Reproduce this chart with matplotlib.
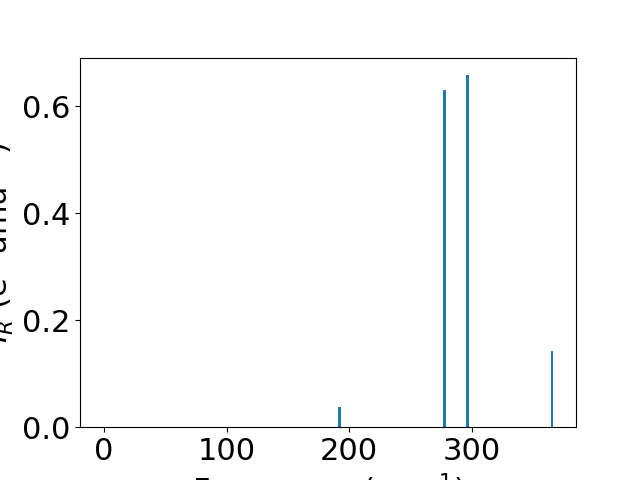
import matplotlib
matplotlib.use('Agg')
import matplotlib.pyplot as plt

# IR spectrum: mode frequencies (cm^-1) and intensities
frequencies = [0.0, 192.0, 277.8, 296.6, 365.7]
intensities = [0.0, 0.037, 0.630, 0.658, 0.142]

plt.rcParams['font.size'] = 22

fig, ax = plt.subplots(figsize=(6.4, 4.8), dpi=100)
ax.bar(frequencies, intensities, width=2.4)
ax.set_xlabel('Frequency (cm$^{-1}$)')
ax.set_ylabel('$I_R$ (e$^2$ amu$^{-1}$)')

fig.savefig('out.png')
